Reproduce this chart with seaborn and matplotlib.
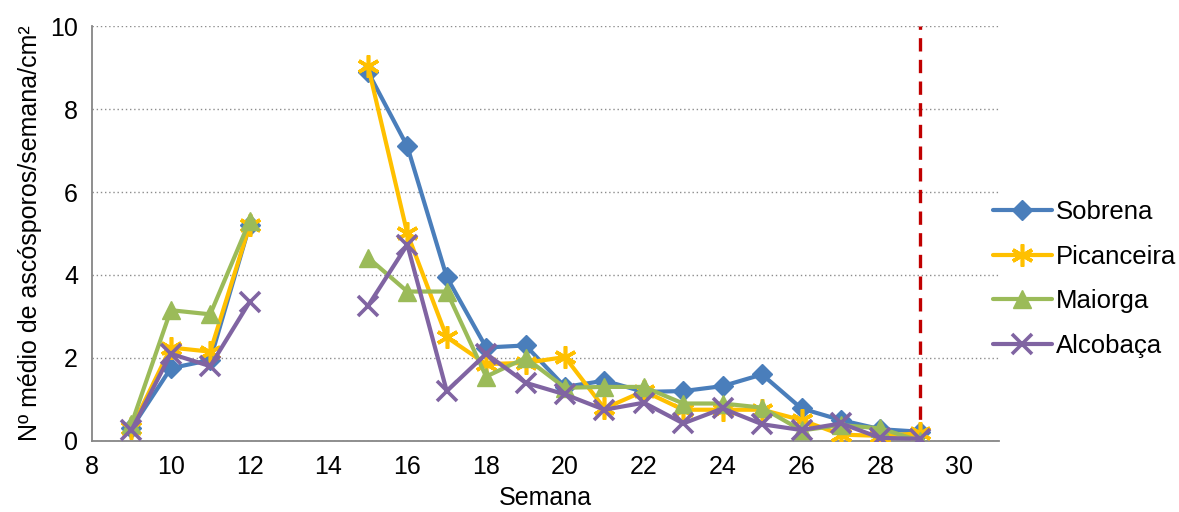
import numpy as np
import pandas as pd
import matplotlib
matplotlib.use("Agg")
import matplotlib.pyplot as plt
import seaborn as sns

semanas = [9, 10, 11, 12, 13, 14, 15, 16, 17, 18, 19, 20, 21, 22, 23, 24, 25, 26, 27, 28, 29]
nan = np.nan
sobrena = [0.3, 1.75, 1.95, 5.2, nan, nan, 8.9, 7.1, 3.95, 2.25, 2.3, 1.3, 1.45, 1.18, 1.2, 1.32, 1.6, 0.78, 0.5, 0.28, 0.22]
picanceira = [0.3, 2.25, 2.15, 5.2, nan, nan, 9.05, 5.0, 2.5, 1.85, 1.88, 2.02, 0.78, 1.2, 0.75, 0.75, 0.75, 0.5, 0.15, 0.12, 0.18]
maiorga = [0.4, 3.15, 3.05, 5.3, nan, nan, 4.42, 3.6, 3.6, 1.55, 2.0, 1.28, 1.3, 1.3, 0.9, 0.9, 0.8, 0.25, 0.38, 0.3, 0.0]
alcobaca = [0.25, 2.1, 1.8, 3.35, nan, nan, 3.25, 4.73, 1.2, 2.1, 1.4, 1.12, 0.75, 0.92, 0.42, 0.78, 0.4, 0.26, 0.42, 0.07, 0.05]
semana_limite = 29

series = {
    "Sobrena": sobrena,
    "Picanceira": picanceira,
    "Maiorga": maiorga,
    "Alcobaça": alcobaca,
}
colors = {"Sobrena": "#4A7EBB", "Picanceira": "#FFC000", "Maiorga": "#9BBB59", "Alcobaça": "#8064A2"}
markers = {"Sobrena": "D", "Picanceira": (6, 2, 0), "Maiorga": "^", "Alcobaça": "x"}
msizes = {"Sobrena": 10, "Picanceira": 16, "Maiorga": 13, "Alcobaça": 15}

sns.set_style("white")
plt.rcParams["font.family"] = ["Liberation Sans", "DejaVu Sans"]
plt.rcParams["text.color"] = "black"
plt.rcParams["axes.labelcolor"] = "black"
plt.rcParams["xtick.labelcolor"] = "black"
plt.rcParams["ytick.labelcolor"] = "black"

fig, ax = plt.subplots(figsize=(11.79, 5.12), dpi=100)
fig.subplots_adjust(left=0.078, right=0.847, top=0.949, bottom=0.139)

# long table, split in blocks where weeks are missing
rows = []
for name, vals in series.items():
    bloco = 0
    for s, v in zip(semanas, vals):
        if np.isnan(v):
            bloco += 1
            continue
        rows.append({"local": name, "semana": s, "valor": v, "bloco": bloco})
df = pd.DataFrame(rows)

for name in series:
    sub = df[df["local"] == name]
    first = True
    for b, seg in sub.groupby("bloco"):
        sns.lineplot(data=seg, x="semana", y="valor", ax=ax, color=colors[name],
                     marker=markers[name], markersize=msizes[name],
                     markeredgecolor=colors[name],
                     markeredgewidth=2.6 if name in ("Picanceira", "Alcobaça") else 1,
                     linewidth=3.0, label=name if first else None, legend=False,
                     estimator=None, sort=False, zorder=3)
        first = False

ax.axvline(semana_limite, color="#C00000", linestyle=(0, (4, 2.5)), linewidth=2.4, zorder=2)

ax.set_xlim(8, 31)
ax.set_ylim(0, 10)
ax.set_xticks(range(8, 31, 2))
ax.set_yticks(range(0, 11, 2))
ax.yaxis.grid(True, color="#8C8C8C", linestyle=(0, (1, 2)), linewidth=1.0)
ax.xaxis.grid(False)
for side in ("top", "right"):
    ax.spines[side].set_visible(False)
for side in ("left", "bottom"):
    ax.spines[side].set_color("#868686")
    ax.spines[side].set_linewidth(1.3)
ax.tick_params(axis="both", direction="out", length=6, width=1.3, color="#868686",
               labelsize=18, pad=4)
ax.set_xlabel("Semana", fontsize=18, labelpad=5)
ax.set_ylabel("Nº médio de ascósporos/semana/cm²", fontsize=18, labelpad=6)

ax.legend(loc="center left", bbox_to_anchor=(0.968, 0.39), frameon=False, fontsize=18.5,
          handlelength=2.3, handletextpad=0.15, labelspacing=0.8)

fig.savefig("out.png", dpi=100)
